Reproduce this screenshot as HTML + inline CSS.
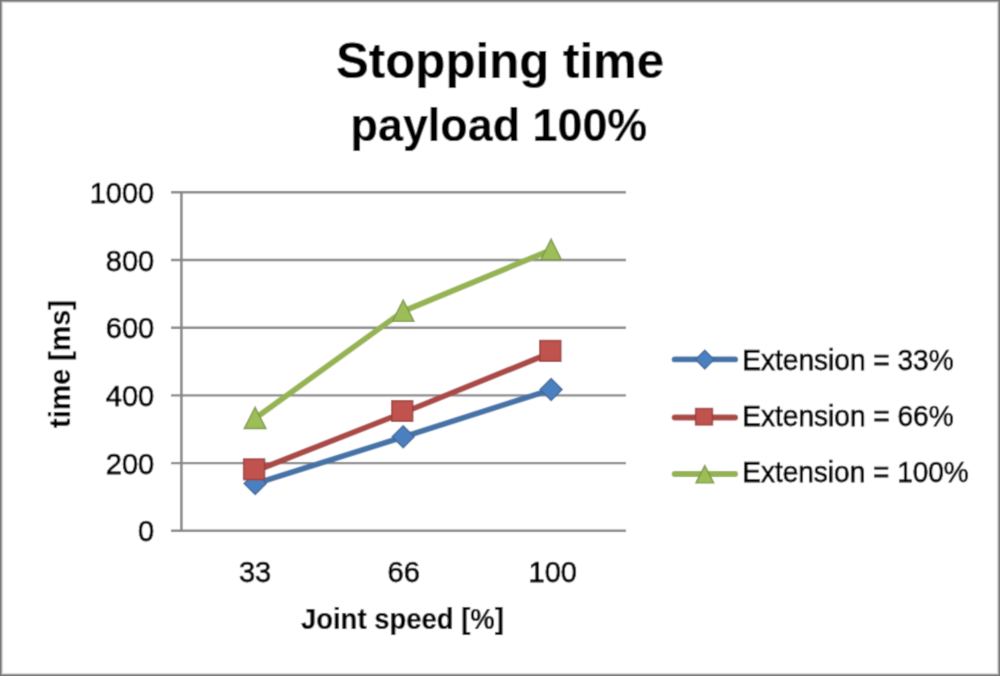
<!DOCTYPE html>
<html>
<head>
<meta charset="utf-8">
<style>
html,body{margin:0;padding:0;background:#fff;}
body{width:1000px;height:676px;overflow:hidden;}
svg{display:block;}
text{font-family:"Liberation Sans",sans-serif;fill:#000;stroke:#000;stroke-width:0.75px;}
.b{font-weight:bold;stroke-width:0.2px;}
</style>
</head>
<body>
<svg width="1000" height="676" viewBox="0 0 1000 676">
<defs><filter id="bl" x="0" y="0" width="1000" height="676" filterUnits="userSpaceOnUse"><feConvolveMatrix order="3" kernelMatrix="0.03 0.11 0.03 0.11 0.44 0.11 0.03 0.11 0.03" edgeMode="duplicate" preserveAlpha="true"/></filter></defs>
<g filter="url(#bl)">
<rect x="0" y="0" width="1000" height="676" fill="#fff"/>
<rect x="0" y="0" width="1000" height="676" fill="none" stroke="#dcdcdc" stroke-width="6"/>
<rect x="0" y="0" width="1000" height="676" fill="none" stroke="#9c9c9c" stroke-width="4"/>
<rect x="0" y="0" width="1000" height="676" fill="none" stroke="#737373" stroke-width="2"/>

<text class="b" x="336.0" y="77.8" font-size="50.5" textLength="328.25" lengthAdjust="spacingAndGlyphs">Stopping time</text>
<text class="b" x="350.56" y="140.5" font-size="46" textLength="296.72" lengthAdjust="spacingAndGlyphs">payload 100%</text>
<g stroke="#888" stroke-width="2.4" fill="none">
<line x1="171" y1="192.3" x2="626" y2="192.3"/>
<line x1="171" y1="260.0" x2="626" y2="260.0"/>
<line x1="171" y1="327.7" x2="626" y2="327.7"/>
<line x1="171" y1="395.4" x2="626" y2="395.4"/>
<line x1="171" y1="463.1" x2="626" y2="463.1"/>
<line x1="171" y1="530.8" x2="626" y2="530.8"/>
<line x1="181.4" y1="191.1" x2="181.4" y2="532.0" stroke-width="2.6"/>
</g>
<g font-size="29" text-anchor="end">
<text x="154.2" y="202.8">1000</text>
<text x="154.2" y="270.5">800</text>
<text x="154.2" y="338.1">600</text>
<text x="154.2" y="405.8">400</text>
<text x="154.2" y="473.5">200</text>
<text x="154.2" y="540.9">0</text>
</g>
<g font-size="29" text-anchor="middle">
<text x="255.05" y="581.6">33</text><text x="403.7" y="581.6">66</text><text x="552.8" y="581.6">100</text>
</g>
<text class="b" x="300.95" y="628.8" font-size="29.3" textLength="202.9" lengthAdjust="spacingAndGlyphs">Joint speed [%]</text>
<text class="b" transform="translate(70.3,427.9) rotate(-90)" x="0" y="0" font-size="29.3" textLength="127.82" lengthAdjust="spacingAndGlyphs">time [ms]</text>
<g fill="none" stroke-width="5.8" stroke-linejoin="round" stroke-linecap="round">
<polyline stroke="#4473A8" points="255.2,483.7 403.2,436.9 551.1,389.7"/>
<polyline stroke="#AA4844" points="254.6,471.2 402.75,412.9 550.8,352.8"/>
<polyline stroke="#95B451" points="255.1,418.45 403.2,311.25 551.1,249.9"/>
</g>
<polygon fill="#3c679b" points="255.2,471.5 267.3,483.5 255.2,495.5 243.1,483.5"/><polygon fill="#4C80C0" points="255.2,473.47 265.33,483.5 255.2,493.53 245.07,483.5"/>
<polygon fill="#3c679b" points="403.2,424.7 415.2,436.7 403.2,448.7 391.2,436.7"/><polygon fill="#4C80C0" points="403.2,426.68 413.22,436.7 403.2,446.72 393.18,436.7"/>
<polygon fill="#3c679b" points="551.1,377.4 563.1,389.5 551.1,401.6 539.1,389.5"/><polygon fill="#4C80C0" points="551.1,379.39 561.11,389.5 551.1,399.61 541.09,389.5"/>
<rect fill="#9b3c3a" x="242.9" y="458.3" width="22.4" height="22"/><rect fill="#C0524D" x="244.3" y="459.7" width="19.6" height="19.2"/>
<rect fill="#9b3c3a" x="391.1" y="400" width="22.3" height="22"/><rect fill="#C0524D" x="392.5" y="401.4" width="19.5" height="19.2"/>
<rect fill="#9b3c3a" x="539.1" y="339.8" width="22.4" height="22.2"/><rect fill="#C0524D" x="540.5" y="341.2" width="19.6" height="19.4"/>
<polygon fill="#7c9847" points="255.1,405.7 267.1,429.2 243.1,429.2"/><polygon fill="#9DBD56" points="255.1,408.78 264.81,427.8 245.39,427.8"/>
<polygon fill="#7c9847" points="403.2,298.4 415.1,322.1 391.3,322.1"/><polygon fill="#9DBD56" points="403.2,301.52 412.83,320.7 393.57,320.7"/>
<polygon fill="#7c9847" points="551.1,237.4 562.5,260.4 539.7,260.4"/><polygon fill="#9DBD56" points="551.1,240.55 560.24,259 541.96,259"/>
<g fill="none" stroke-width="5.8" stroke-linecap="round">
<line x1="674.6" y1="359.4" x2="735.2" y2="359.4" stroke="#4473A8"/>
<line x1="674.6" y1="417.5" x2="735.2" y2="417.5" stroke="#AA4844"/>
<line x1="674.6" y1="474" x2="735.2" y2="474" stroke="#95B451"/>
</g>
<polygon fill="#3c679b" points="704.8,349.2 715,359.6 704.8,370 694.6,359.6"/><polygon fill="#4C80C0" points="704.8,351.2 713,359.6 704.8,368 696.6,359.6"/>
<rect fill="#9b3c3a" x="694.85" y="407.8" width="18.35" height="17.8"/><rect fill="#C0524D" x="696.25" y="409.2" width="15.55" height="15"/>
<polygon fill="#7c9847" points="704.8,464 714.8,483.6 694.8,483.6"/><polygon fill="#9DBD56" points="704.8,467.08 712.51,482.2 697.09,482.2"/>
<g font-size="30.4">
<text x="742.25" y="370.0" textLength="211.4" lengthAdjust="spacingAndGlyphs">Extension = 33%</text>
<text x="742.25" y="426.2" textLength="211.4" lengthAdjust="spacingAndGlyphs">Extension = 66%</text>
<text x="742.26" y="482.4" textLength="226.5" lengthAdjust="spacingAndGlyphs">Extension = 100%</text>
</g>
</g>
</svg>
</body>
</html>
